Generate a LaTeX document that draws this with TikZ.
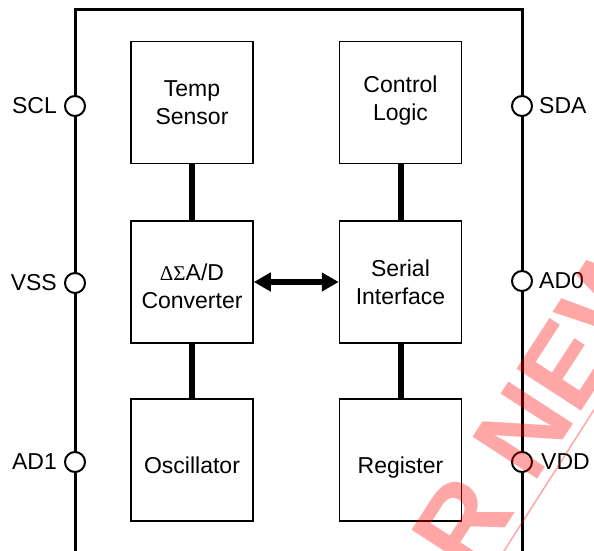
\documentclass[tikz,border=0pt]{standalone}
\usepackage{fontspec}
\setmainfont{Liberation Sans}
\newfontfamily\grkfont{Liberation Serif}
\usetikzlibrary{arrows.meta}
\begin{document}
\begin{tikzpicture}[x=1pt,y=-1pt,
  blk/.style={draw,line width=1.5pt,minimum width=122pt,minimum height=122pt,inner sep=0pt},
  lbl/.style={font=\fontsize{23}{28}\selectfont,align=center,inner sep=0pt},
  pin/.style={circle,draw,line width=2pt,fill=white,minimum size=20pt,inner sep=0pt},
  pinlbl/.style={font=\fontsize{23}{28}\selectfont,inner sep=0pt},
  bus/.style={line width=6pt},
  frame/.style={line width=3pt},
  wm/.style={red,opacity=0.35}]
\useasboundingbox (0,0) rectangle (594,551);
% frame
\coordinate (fbl) at (75,551);
\coordinate (ftl) at (75,10);
\coordinate (ftr) at (522,10);
\coordinate (fbr) at (522,551);
\draw[frame] (fbl) -- (ftl) -- (ftr) -- (fbr);
% blocks
\node[blk] (temp) at (192,102.5) {};
\node[blk] (ctrl) at (400.5,102.5) {};
\node[blk] (adc)  at (192,282) {};
\node[blk] (ser)  at (400.5,282) {};
\node[blk] (osc)  at (192,460) {};
\node[blk] (reg)  at (400.5,460) {};
\node[lbl] (tempt) at (192,103) {Temp\\Sensor};
\node[lbl] (ctrlt) at (400.5,101) {Control\\Logic};
\node[lbl] (adct)  at (192,286) {{\grkfont\fontsize{21}{28}\selectfont ΔΣ}A/D\\Converter};
\node[lbl] (sert)  at (400.5,282.5) {Serial\\Interface};
\node[lbl] (osct)  at (192,465) {Oscillator};
\node[lbl,anchor=base] (regt) at (400.5,473.5) {Register};
% connectors
\draw[bus] (temp) -- (adc);
\draw[bus] (adc) -- (osc);
\draw[bus] (ctrl) -- (ser);
\draw[bus] (ser) -- (reg);
\draw[bus,{Triangle[length=17pt,width=18pt]}-{Triangle[length=17pt,width=18pt]}] (adc) -- (ser);
% pins
\node[pin] (scl) at (75,106) {};
\node[pin] (vss) at (75,283) {};
\node[pin] (ad1) at (75,462) {};
\node[pin] (sda) at (522,106) {};
\node[pin] (ad0) at (522,281) {};
\node[pin] (vdd) at (522,462) {};
\node[pinlbl,anchor=east] (sclt) at (57,106) {SCL};
\node[pinlbl,anchor=east] (vsst) at (57,283) {VSS};
\node[pinlbl,anchor=east] (ad1t) at (57,462) {AD1};
\node[pinlbl,anchor=west] (sdat) at (539,106) {SDA};
\node[pinlbl,anchor=west] (ad0t) at (539,281) {AD0};
\node[pinlbl,anchor=west] (vddt) at (541,462) {VDD};
% watermark
\begin{scope}
\clip (0,0) rectangle (594,551);
\node[wm,rotate=57,inner sep=0pt,font=\bfseries\fontsize{112}{112}\selectfont] (wmt) at (499.2,466.6) {FOR NEW};
\coordinate (wl1) at (620,369);
\coordinate (wl2) at (490,573);
\draw[wm,line width=1.5pt] (wl1) -- (wl2);
\end{scope}
\end{tikzpicture}
\end{document}
